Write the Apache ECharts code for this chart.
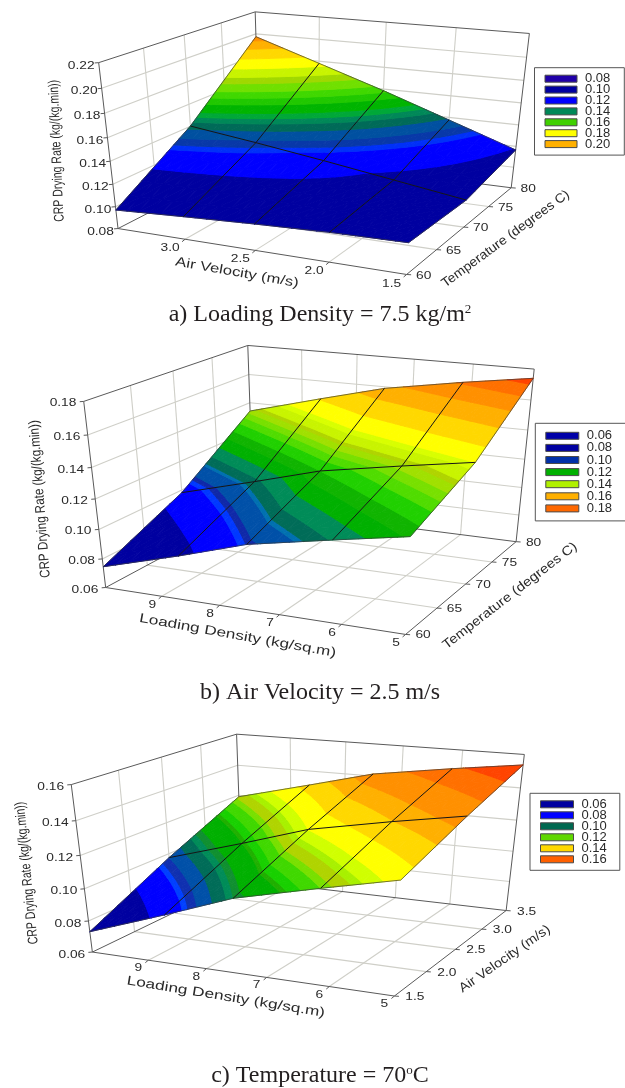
<!DOCTYPE html>
<html><head><meta charset="utf-8"><script src="https://cdn.jsdelivr.net/npm/echarts@6/dist/echarts.min.js"></script>
<style>html,body{margin:0;background:#fff}#c{width:625px;height:1088px;filter:blur(.4px)}</style></head><body><div id="c"></div>
<script>
// ---- data ----
const velocityAxis=[3.5,1.5], temperatureAxis=[60,80], loadingAxis=[10,5], velocitySideAxis=[1.5,3.5];
const velocityTicks=[3.0,2.5,2.0,1.5], temperatureTicks=[60,65,70,75,80], loadingTicks=[9,8,7,6,5], velocitySideTicks=[1.5,2.0,2.5,3.0,3.5];
const velocityNodes=[3.5,3.0,2.5,2.0,1.5], temperatureNodes=[60,70,80], loadingNodes=[10,8.65,7.5,6.15,5], velocitySideNodes=[1.5,2.5,3.5];
const ratesA=[[.0970,.1003,.1033,.1058,.1070],[.1402,.1322,.1235,.1141,.1047],[.1974,.1780,.1585,.1376,.1166]];
const ratesB=[[.0746,.0897,.1037,.1139,.1222],[.0982,.1123,.1248,.1341,.1415],[.1340,.1477,.1589,.1676,.1741]];
const ratesC=[[.0732,.0902,.1054,.1170,.1264],[.0975,.1118,.1246,.1339,.1410],[.1190,.1309,.1413,.1484,.1538]];
const zTicksA=[.08,.10,.12,.14,.16,.18,.20,.22], zTicksB=[.06,.08,.10,.12,.14,.16,.18], zTicksC=[.06,.08,.10,.12,.14,.16];
const legendA=[['0.08','#2000a8'],['0.10','#0000a0'],['0.12','#0000ff'],['0.14','#008858'],['0.16','#40d000'],['0.18','#ffff00'],['0.20','#ffb000']];
const legendB=[['0.06','#0000a8'],['0.08','#0000a0'],['0.10','#0030a8'],['0.12','#00b000'],['0.14','#b0f000'],['0.16','#ffb000'],['0.18','#ff6800']];
const legendC=[['0.06','#0000a0'],['0.08','#0000ff'],['0.10','#006850'],['0.12','#60d800'],['0.14','#ffd800'],['0.16','#ff6000']];
const bandsA=[[.1175,'#0000a0'],[.1275,'#0000ff'],[.13,'#0030f8'],[.1335,'#0838a8'],[.1385,'#0050a0'],[.1425,'#006a58'],[.1455,'#008858'],[.1485,'#00a838'],[.1535,'#00b400'],[.1575,'#20c800'],[.1615,'#40d800'],[.1665,'#70e000'],[.1705,'#a0d800'],[.176,'#c8f400'],[.1825,'#ffff00'],[.189,'#ffd800'],[.1945,'#ffb000'],[.22,'#ff9000']];
const bandsB=[[.093,'#0000a0'],[.102,'#0000ff'],[.1035,'#0038ff'],[.105,'#1028a8'],[.1095,'#0050a8'],[.1105,'#0070b0'],[.1135,'#006c58'],[.1175,'#008c58'],[.1215,'#00b000'],[.1248,'#10b400'],[.1283,'#20d000'],[.1309,'#50dc00'],[.1331,'#78e000'],[.1352,'#a0e000'],[.1365,'#b0d400'],[.1396,'#c8f400'],[.1415,'#d8ff00'],[.1472,'#ffff00'],[.1544,'#ffd800'],[.161,'#ffb000'],[.1669,'#ff9000'],[.1717,'#ff7000'],[.18,'#ff4400']];
const bandsC=[[.087,'#0000a0'],[.0942,'#0000ff'],[.0955,'#0040ff'],[.0975,'#1030b0'],[.1009,'#0050a8'],[.1039,'#006c58'],[.1054,'#008c58'],[.107,'#109030'],[.1118,'#00b000'],[.1127,'#20b000'],[.1145,'#18d000'],[.117,'#40d800'],[.1184,'#78e000'],[.1207,'#b0d400'],[.1221,'#a8f000'],[.1245,'#d0ff00'],[.1291,'#ffff00'],[.1341,'#ffd800'],[.1383,'#ffb000'],[.1444,'#ff9000'],[.1494,'#ff7000'],[.16,'#ff4400']];

// ---- layout of the three panels ----
const panels=[
{id:'a',corners:[[118.4,229.3],[406.5,274],[511.4,188.3],[259.1,155],[98.4,62.3],[255.5,12.3],[529.3,33.3]],uRange:velocityAxis,vRange:temperatureAxis,zRange:[.08,.22],
 uNodes:velocityNodes,vNodes:temperatureNodes,rates:ratesA,bands:bandsA,legend:legendA,zTicks:zTicksA,uTicks:velocityTicks,vTicks:temperatureTicks,uDec:1,vDec:0,
 zOff:[-17.5,3],uOff:[-15,9],vOff:[17,1],
 titles:[{t:'CRP Drying Rate (kg/(kg.min))',c:[56.8,150.8],a:92.4,l:142,f:14},{t:'Air Velocity (m/s)',c:[237,272.7],a:-10,l:125,f:13},{t:'Temperature (degrees C)',c:[505.6,239],a:36.3,l:155,f:13}],
 legendBox:{left:534.5,top:67.7,pad:[4.5,14,4.5,10],w:32,gap:-2.1},caption:{text:'a) Loading Density = 7.5 kg/m{sup|2}',top:298}},
{id:'b',corners:[[105.6,586.7],[405.7,635],[516.1,541],[253.5,509],[83.7,401.7],[247.9,345],[534.1,369.3]],uRange:loadingAxis,vRange:temperatureAxis,zRange:[.06,.18],
 uNodes:loadingNodes,vNodes:temperatureNodes,rates:ratesB,bands:bandsB,legend:legendB,zTicks:zTicksB,uTicks:loadingTicks,vTicks:temperatureTicks,uDec:0,vDec:0,
 zOff:[-20.7,2],uOff:[-9.5,8.3],vOff:[17.5,1],
 titles:[{t:'CRP Drying Rate (kg/(kg.min))',c:[40,499],a:94.3,l:158,f:14},{t:'Loading Density (kg/sq.m)',c:[237.7,635.8],a:-10.1,l:199.6,f:13},{t:'Temperature (degrees C)',c:[510,595.8],a:37.7,l:166,f:13}],
 legendBox:{left:535.3,top:423.3,pad:[6,14,6,10],w:33,gap:-.9},caption:{text:'b) Air Velocity = 2.5 m/s',top:675.7}},
{id:'c',corners:[[92.5,951.7],[394.6,996],[506.2,910.7],[241.5,880],[70.9,785],[237.1,734],[524.1,754.3]],uRange:loadingAxis,vRange:velocitySideAxis,zRange:[.06,.16],
 uNodes:loadingNodes,vNodes:velocitySideNodes,rates:ratesC,bands:bandsC,legend:legendC,zTicks:zTicksC,uTicks:loadingTicks,vTicks:velocitySideTicks,uDec:0,vDec:1,
 zOff:[-20.5,2.5],uOff:[-10,8],vOff:[20.5,1],
 titles:[{t:'CRP Drying Rate (kg/(kg.min))',c:[27,873],a:95.6,l:143,f:14},{t:'Loading Density (kg/sq.m)',c:[225.8,997],a:-9.3,l:200.8,f:13},{t:'Air Velocity (m/s)',c:[504.8,959],a:34.8,l:108,f:13}],
 legendBox:{left:530,top:793.3,pad:[4.5,13,4.5,10],w:33,gap:-2},caption:{text:'c) Temperature = 70{sup|o}C',top:1059}}];

const cube=[[0,0,0],[1,0,0],[1,1,0],[0,1,0],[0,0,1],[0,1,1],[1,1,1]];
function fit(pts){const A=[],B=[];pts.forEach((p,i)=>{const [u,v,w]=cube[i],x=p[0]/500,y=p[1]/500;
 A.push([u,v,w,1,0,0,0,0,-x*u,-x*v,-x*w]);B.push(x);A.push([0,0,0,0,u,v,w,1,-y*u,-y*v,-y*w]);B.push(y);});
 const n=11,M=[];for(let i=0;i<n;i++){M.push([]);for(let j=0;j<=n;j++){let s=0;for(let k=0;k<A.length;k++)s+=A[k][i]*(j<n?A[k][j]:B[k]);M[i].push(s+(i==j?1e-9:0));}}
 for(let i=0;i<n;i++){let b=i;for(let r=i;r<n;r++)if(Math.abs(M[r][i])>Math.abs(M[b][i]))b=r;[M[i],M[b]]=[M[b],M[i]];
  for(let r=0;r<n;r++)if(r!=i){const f=M[r][i]/M[i][i];for(let j=i;j<=n;j++)M[r][j]-=f*M[i][j];}}
 return M.map((r,i)=>r[n]/r[i]);}
const measure=document.createElement('canvas').getContext('2d');
const SANS='"Liberation Sans",Arial,sans-serif', SERIF='"Liberation Serif","Times New Roman",serif';
const series=[],legends=[],titles=[];

panels.forEach(p=>{
 const P=fit(p.corners);
 const proj=(u,v,w)=>{const d=P[8]*u+P[9]*v+P[10]*w+1;return [500*(P[0]*u+P[1]*v+P[2]*w+P[3])/d,500*(P[4]*u+P[5]*v+P[6]*w+P[7])/d];};
 const U=x=>(x-p.uRange[0])/(p.uRange[1]-p.uRange[0]),V=x=>(x-p.vRange[0])/(p.vRange[1]-p.vRange[0]),W=z=>(z-p.zRange[0])/(p.zRange[1]-p.zRange[0]);
 // frame
 const lines=[],G='#cfcfc8',D='#5a5a5a';
 const add=(a,b,c,lw)=>lines.push({a:proj(...a),b:proj(...b),c,lw});
 p.zTicks.forEach(z=>{const w=W(z);if(w>0.001&&w<0.999){add([0,0,w],[0,1,w],G,1.1);add([0,1,w],[1,1,w],G,1.1);}});
 p.vTicks.forEach(t=>{const v=V(t);if(v>0&&v<1){add([0,v,0],[0,v,1],G,1.1);add([0,v,0],[1,v,0],G,1.1);}});
 p.uTicks.forEach(t=>{const u=U(t);if(u>0&&u<1){add([u,1,0],[u,1,1],G,1.1);add([u,0,0],[u,1,0],G,1.1);}});
 [[[0,0,0],[0,0,1]],[[0,0,1],[0,1,1]],[[0,1,1],[1,1,1]],[[0,1,0],[0,1,1]],[[1,1,0],[1,1,1]],[[0,0,0],[1,0,0]],[[1,0,0],[1,1,0]],[[0,0,0],[0,1,0]],[[0,1,0],[1,1,0]]].forEach(e=>add(e[0],e[1],D,1));
 // tick marks
 p.zTicks.forEach(z=>{const a=proj(0,0,W(z));lines.push({a,b:[a[0]-4,a[1]+.3],c:D,lw:1});});
 p.uTicks.forEach(t=>{const a=proj(U(t),0,0);lines.push({a,b:[a[0]-3,a[1]+2.5],c:D,lw:1});});
 p.vTicks.forEach(t=>{const a=proj(1,V(t),0);lines.push({a,b:[a[0]+4.5,a[1]+.3],c:D,lw:1});});
 series.push({type:'custom',name:p.id+' frame',coordinateSystem:'none',silent:true,animation:false,z:1,data:lines.map((l,i)=>[i]),
  renderItem:(_,api)=>{const l=lines[api.value(0)];return {type:'line',shape:{x1:l.a[0],y1:l.a[1],x2:l.b[0],y2:l.b[1]},style:{stroke:l.c,lineWidth:l.lw}};}});
 // surface bands
 const bn=p.bands.map((b,i)=>({lo:i?p.bands[i-1][0]:-1,hi:b[0],col:b[1],polys:[]}));
 const val=(a,b,t)=>({u:a.u+t*(b.u-a.u),v:a.v+t*(b.v-a.v),z:a.z+t*(b.z-a.z)});
 const clip=(poly,lim,keepAbove)=>{const out=[];for(let i=0;i<poly.length;i++){const a=poly[i],b=poly[(i+1)%poly.length];
  const ia=keepAbove?a.z>=lim:a.z<=lim,ib=keepAbove?b.z>=lim:b.z<=lim;if(ia)out.push(a);if(ia!==ib)out.push(val(a,b,(lim-a.z)/(b.z-a.z)));}return out;};
 const n=6;const tri=(t)=>bn.forEach(b=>{let q=clip(clip(t,b.lo,true),b.hi,false);if(q.length>2)b.polys.push(q.map(o=>proj(o.u,o.v,W(o.z))));});
 for(let r=0;r<p.vNodes.length-1;r++)for(let c=0;c<p.uNodes.length-1;c++){
  const u0=U(p.uNodes[c]),u1=U(p.uNodes[c+1]),v0=V(p.vNodes[r]),v1=V(p.vNodes[r+1]);
  const at=(s,t)=>({u:u0+s*(u1-u0),v:v0+t*(v1-v0),z:(1-s)*(1-t)*p.rates[r][c]+s*(1-t)*p.rates[r][c+1]+(1-s)*t*p.rates[r+1][c]+s*t*p.rates[r+1][c+1]});
  for(let i=0;i<n;i++)for(let j=0;j<n;j++){const A=at(i/n,j/n),B=at((i+1)/n,j/n),C=at((i+1)/n,(j+1)/n),E=at(i/n,(j+1)/n);tri([A,B,C]);tri([A,C,E]);}
 }
 // one series per legend level; each band goes to the nearest level
 const levels=p.legend.map(l=>parseFloat(l[0]));
 p.legend.forEach((l,li)=>{
  const polys=[];bn.forEach(b=>{const mid=(Math.max(b.lo,p.zRange[0])+b.hi)/2;let best=0;levels.forEach((x,k)=>{if(Math.abs(x-mid)<Math.abs(levels[best]-mid))best=k;});
   if(best===li)b.polys.forEach(q=>polys.push({q,col:b.col}));});
  series.push({type:'custom',name:p.id+' '+l[0],coordinateSystem:'none',silent:true,animation:false,z:2,itemStyle:{color:l[1]},data:polys.map((_,i)=>[i]),
   renderItem:(_,api)=>{const o=polys[api.value(0)];return {type:'polygon',shape:{points:o.q},style:{fill:o.col,stroke:o.col,lineWidth:.9}};}});
 });
 // grid lines over the surface
 const wires=[];const node=(r,c)=>proj(U(p.uNodes[c]),V(p.vNodes[r]),W(p.rates[r][c]));
 const R=p.vNodes.length,C=p.uNodes.length;
 for(let r=0;r<R;r++){const edge=r===0||r===R-1;for(let c=0;c<C-1;c++)wires.push({a:node(r,c),b:node(r,c+1),c:edge?'#3a3a3a':'#161616',lw:edge?.7:1});}
 for(let c=0;c<C;c++){const edge=c===0||c===C-1;for(let r=0;r<R-1;r++)wires.push({a:node(r,c),b:node(r+1,c),c:edge?'#3a3a3a':'#161616',lw:edge?.7:1});}
 series.push({type:'custom',name:p.id+' mesh',coordinateSystem:'none',silent:true,animation:false,z:3,data:wires.map((_,i)=>[i]),
  renderItem:(_,api)=>{const l=wires[api.value(0)];return {type:'line',shape:{x1:l.a[0],y1:l.a[1],x2:l.b[0],y2:l.b[1]},style:{stroke:l.c,lineWidth:l.lw}};}});
 // text
 const texts=[];
 p.zTicks.forEach(z=>{const a=proj(0,0,W(z));texts.push({t:z.toFixed(2),x:a[0]+p.zOff[0],y:a[1]+p.zOff[1],f:11,sx:1.25,r:0});});
 p.uTicks.forEach(t=>{const a=proj(U(t),0,0);texts.push({t:t.toFixed(p.uDec),x:a[0]+p.uOff[0],y:a[1]+p.uOff[1],f:11,sx:1.25,r:0});});
 p.vTicks.forEach(t=>{const a=proj(1,V(t),0);texts.push({t:t.toFixed(p.vDec),x:a[0]+p.vOff[0],y:a[1]+p.vOff[1],f:11,sx:1.25,r:0});});
 p.titles.forEach(o=>{measure.font=o.f+'px '+SANS;const m=measure.measureText(o.t).width;texts.push({t:o.t,x:o.c[0],y:o.c[1],f:o.f,sx:o.l/m,r:o.a*Math.PI/180});});
 series.push({type:'custom',name:p.id+' labels',coordinateSystem:'none',silent:true,animation:false,z:4,data:texts.map((_,i)=>[i]),
  renderItem:(_,api)=>{const o=texts[api.value(0)];return {type:'text',x:o.x,y:o.y,rotation:o.r,scaleX:o.sx,scaleY:1,style:{text:o.t,x:0,y:0,fill:'#2a2a2a',font:o.f+'px '+SANS,align:'center',verticalAlign:'middle'}};}});
 // legend
 const L=p.legendBox;
 legends.push({data:p.legend.map(l=>p.id+' '+l[0]),orient:'vertical',left:L.left,top:L.top,padding:L.pad,itemWidth:L.w,itemHeight:7,itemGap:L.gap,icon:'rect',selectedMode:false,
  formatter:s=>s.split(' ')[1],itemStyle:{borderColor:'#4a4a4a',borderWidth:1},textStyle:{fontFamily:SANS,fontSize:13,color:'#2a2a2a',padding:[0,0,0,3]},
  backgroundColor:'#fff',borderColor:'#555',borderWidth:1,borderRadius:0,z:6});
 titles.push({text:p.caption.text,left:315,top:p.caption.top,textAlign:'center',textStyle:{fontFamily:SERIF,fontWeight:'normal',fontSize:24,color:'#231f20',rich:{sup:{fontFamily:SERIF,fontSize:13,color:'#231f20',verticalAlign:'top',lineHeight:24,padding:[0,0,8,0]}}}});
});
const chart=echarts.init(document.getElementById('c'),null,{renderer:'canvas'});
chart.setOption({animation:false,backgroundColor:'#fff',title:titles,legend:legends,series});
</script></body></html>
